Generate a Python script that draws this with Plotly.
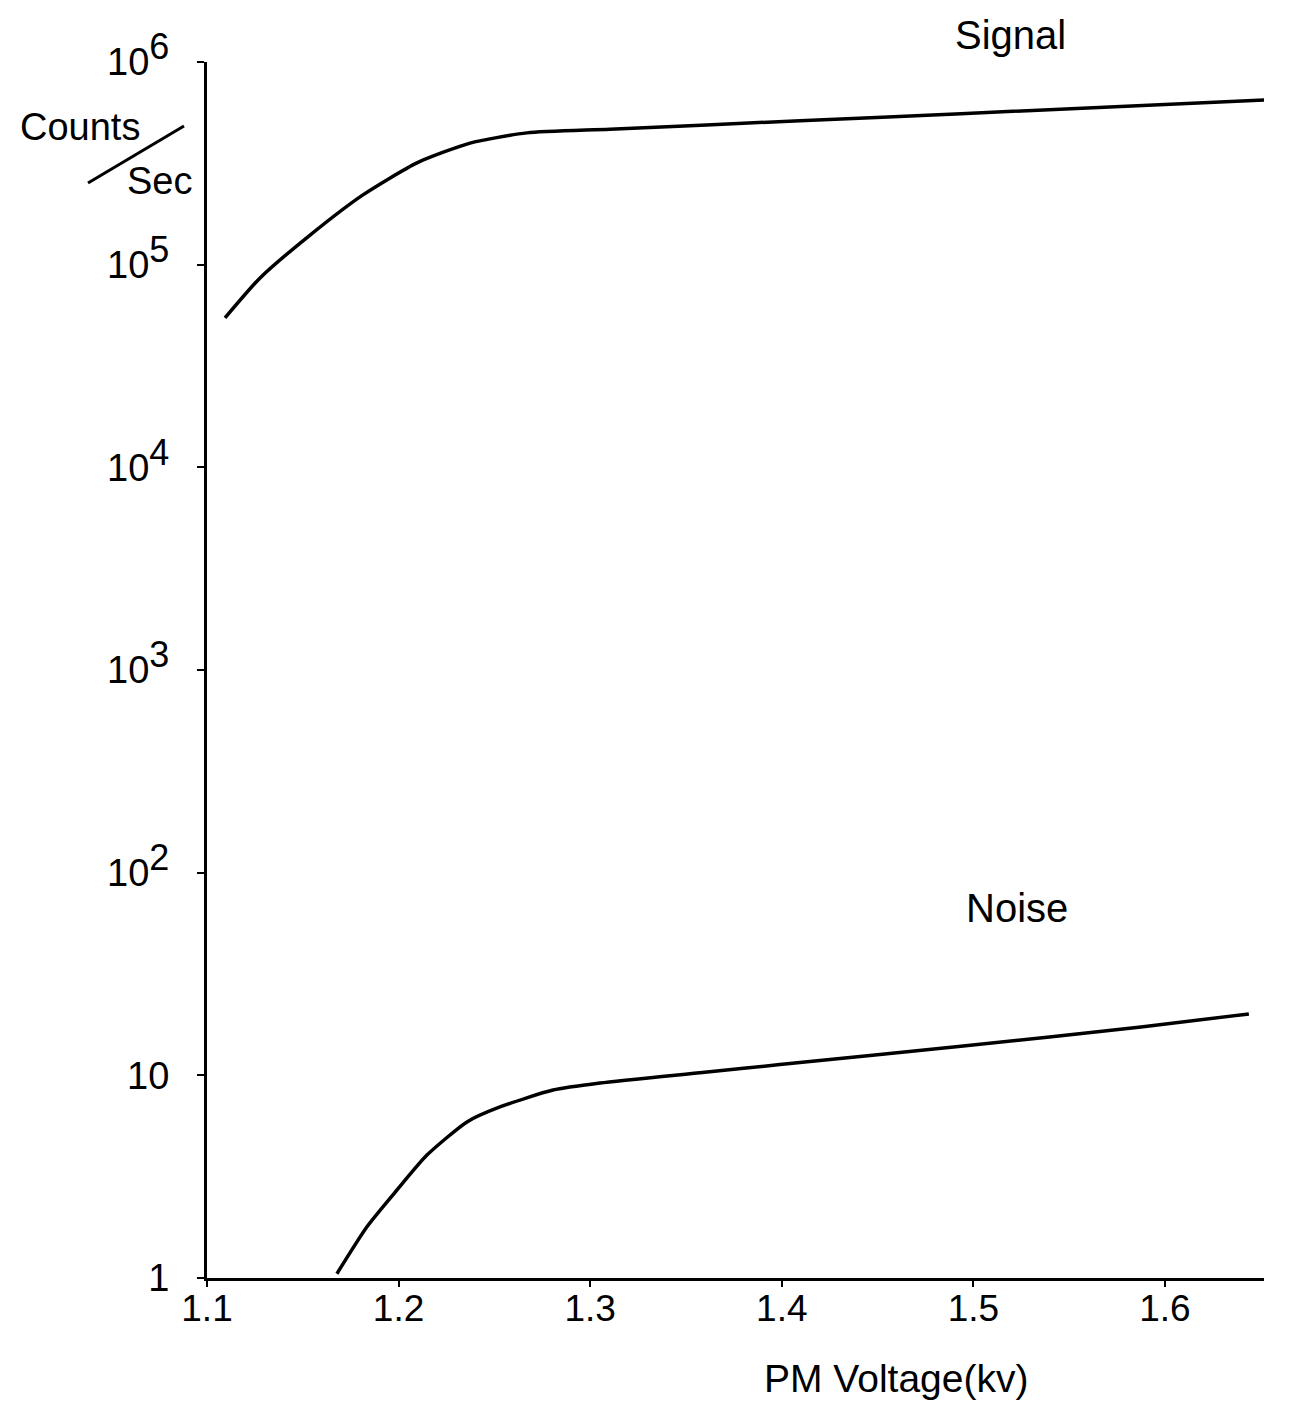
import plotly.graph_objects as go

# Signal curve (PM voltage in kV, counts/sec)
signal_kv = [1.1094, 1.1277, 1.1538, 1.1814, 1.2096, 1.2373, 1.2670, 1.3103, 1.4095, 1.4935, 1.6522]
signal_cps = [5.46e4, 8.6e4, 1.40e5, 2.21e5, 3.18e5, 3.98e5, 4.47e5, 4.66e5, 5.13e5, 5.56e5, 6.5e5]

# Noise curve
noise_kv = [1.1678, 1.1835, 1.1992, 1.2148, 1.2357, 1.2529, 1.2806, 1.3051, 1.3573, 1.399, 1.4935, 1.5875, 1.6438]
noise_cps = [1.05, 1.79, 2.72, 4.04, 5.89, 6.98, 8.46, 9.16, 10.3, 11.3, 13.9, 17.3, 20.1]

x_ticks = [1.1, 1.2, 1.3, 1.4, 1.5, 1.6]
x_ticktext = ["1.1", "1.2", "1.3", "1.4", "1.5", "1.6"]
y_ticks = [1, 10, 100, 1000, 10000, 100000, 1000000]
y_exponents = ["", "", "2", "3", "4", "5", "6"]

FONT = "Liberation Sans, Arial, sans-serif"

def ylabel(v, e):
    if e == "":
        return str(v)
    return "10<sup><span style='font-size:36px'>" + e + "</span></sup>"

y_ticktext = [ylabel(v, e) for v, e in zip(y_ticks, y_exponents)]

fig = go.Figure()
fig.add_trace(go.Scatter(x=signal_kv, y=signal_cps, mode="lines",
                         line=dict(color="black", width=3.5, shape="spline", smoothing=0.6), showlegend=False))
fig.add_trace(go.Scatter(x=noise_kv, y=noise_cps, mode="lines",
                         line=dict(color="black", width=3.5, shape="spline", smoothing=0.6), showlegend=False))

fig.update_layout(
    width=1307, height=1416,
    margin=dict(l=199, r=51, t=54, b=146),
    paper_bgcolor="white", plot_bgcolor="white",
    font=dict(family=FONT, color="black"),
    xaxis=dict(range=[1.1, 1.6517], tickvals=x_ticks, ticktext=x_ticktext,
               showline=True, linecolor="black", linewidth=3, showgrid=False, zeroline=False,
               ticks="outside", ticklen=6, tickwidth=2, tickcolor="black",
               tickfont=dict(size=37, family=FONT), ticklabelstandoff=-10),
    yaxis=dict(type="log", range=[0, 6], tickvals=y_ticks, ticktext=y_ticktext,
               showline=True, linecolor="black", linewidth=3, showgrid=False, zeroline=False,
               ticks="outside", ticklen=7, tickwidth=2, tickcolor="black",
               tickfont=dict(size=38, family=FONT), ticklabelstandoff=20),
)

def px(xp):
    return (xp - 207) / 1057.0

def py(yp):
    return (1278 - yp) / 1216.0

annots = [
    ("Signal", 1010, 35, 40),
    ("Noise", 1017, 908, 40),
    ("Counts", 80, 127, 38),
    ("Sec", 159, 181, 38),
    ("PM Voltage(kv)", 896, 1378, 39),
]
for text, x, y, s in annots:
    fig.add_annotation(text=text, x=px(x), y=py(y), xref="paper", yref="paper",
                       showarrow=False, xanchor="center", yanchor="middle",
                       font=dict(size=s, family=FONT, color="black"))

fig.add_shape(type="line", xref="paper", yref="paper",
              x0=px(88), y0=py(183), x1=px(184), y1=py(126),
              line=dict(color="black", width=3))

fig.write_html("out.html")
